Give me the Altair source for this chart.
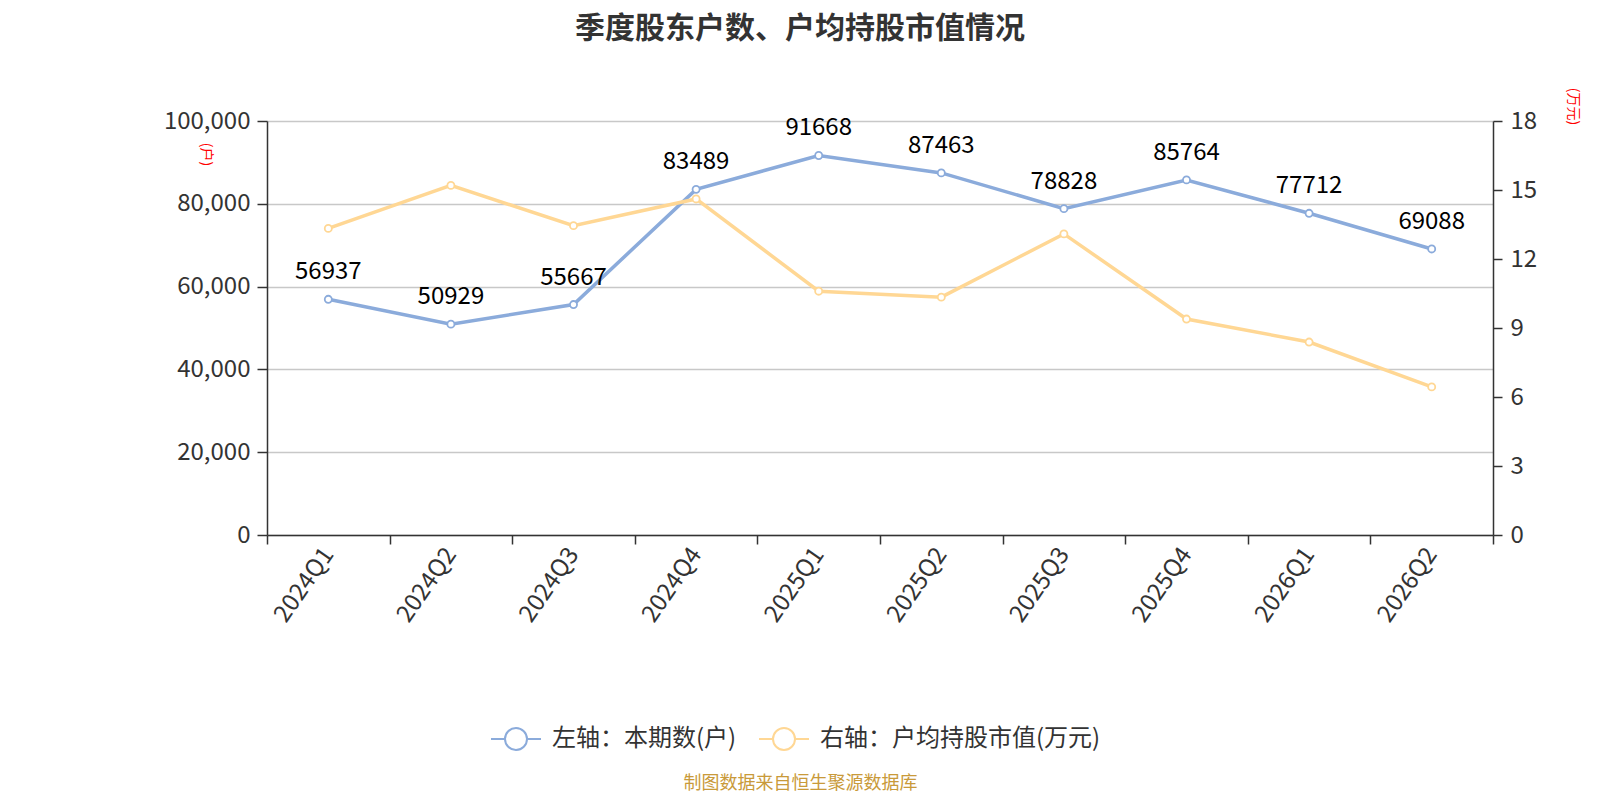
import altair as alt
import pandas as pd

quarters = ["2024Q1", "2024Q2", "2024Q3", "2024Q4", "2025Q1",
            "2025Q2", "2025Q3", "2025Q4", "2026Q1", "2026Q2"]
holders = [56937, 50929, 55667, 83489, 91668, 87463, 78828, 85764, 77712, 69088]
avg_value = [13.33, 15.20, 13.45, 14.61, 10.60, 10.34, 13.09, 9.39, 8.39, 6.44]

name_left = "左轴：本期数(户)"
name_right = "右轴：户均持股市值(万元)"
left_ticks = [0, 20000, 40000, 60000, 80000, 100000]
right_ticks = [0, 3, 6, 9, 12, 15, 18]

BLUE = "#8BABDB"
YELLOW = "#FFD794"
FONT = "Noto Sans CJK SC"

df_l = pd.DataFrame({"quarter": quarters, "v": holders, "series": name_left})
df_r = pd.DataFrame({"quarter": quarters, "v": avg_value, "series": name_right})

x_enc = alt.X(
    "quarter:N", sort=quarters, bandPosition=0.5,
    scale=alt.Scale(type="band", paddingInner=0, paddingOuter=0),
    axis=alt.Axis(
        title="制图数据来自恒生聚源数据库", titleColor="#C99A3A", titleFontSize=18,
        titleFontWeight="normal", titleX=533, titleY=248, titleAlign="center",
        titleBaseline="middle", labelAngle=-55, labelFontSize=24, labelColor="#333333",
        labelPadding=6, tickBand="extent", grid=False, domainColor="#333333",
        domainWidth=1.5, tickColor="#333333", tickWidth=1.5, tickSize=9,
    ),
)

sym_path = "M-1,0L-0.44,0M0.44,0L1,0M0.44,0A0.44,0.44,0,1,1,-0.44,0A0.44,0.44,0,1,1,0.44,0Z"
legend = alt.Legend(
    title=None, orient="none", legendX=223, legendY=592, direction="horizontal",
    symbolType=sym_path, symbolSize=2500, symbolStrokeWidth=2, symbolFillColor="white",
    symbolOpacity=1, labelFontSize=24, labelColor="#333333", labelOffset=10,
    labelLimit=500, columnPadding=18, padding=0,
)
color_enc = alt.Color("series:N", scale=alt.Scale(domain=[name_left, name_right], range=[BLUE, YELLOW]), legend=legend)

y_l = alt.Y("v:Q", scale=alt.Scale(domain=[0, 100000]),
            axis=alt.Axis(values=left_ticks, format=",d", title="(户)", titleAngle=90,
                          titleX=-62, titleY=33, titleAlign="center", titleBaseline="middle",
                          titleColor="red", titleFontSize=14, titleFontWeight="normal",
                          labelFontSize=24, labelColor="#333333", labelPadding=7,
                          grid=True, gridColor="#c8c8c8", gridWidth=1.4,
                          domainColor="#333333", domainWidth=1.5, tickColor="#333333",
                          tickWidth=1.5, tickSize=10))
y_r = alt.Y("v:Q", scale=alt.Scale(domain=[0, 18]),
            axis=alt.Axis(orient="right", values=right_ticks, title="(万元)", titleAngle=90,
                          titleX=79, titleY=-15, titleAlign="center", titleBaseline="middle",
                          titleColor="red", titleFontSize=14, titleFontWeight="normal",
                          labelFontSize=24, labelColor="#333333", labelPadding=8,
                          grid=False, domainColor="#333333", domainWidth=1.5,
                          tickColor="#333333", tickWidth=1.5, tickSize=9))

base_l = alt.Chart(df_l).encode(x=x_enc, y=y_l)
line_l = base_l.mark_line(strokeWidth=3.5).encode(color=color_enc)
pts_l = base_l.mark_point(filled=False, fill="white", size=50, strokeWidth=1.8, opacity=1).encode(color=color_enc)
txt_l = base_l.mark_text(fontSize=24, color="black", dy=-27, baseline="middle", align="center").encode(text="v:Q")
left = alt.layer(line_l, pts_l, txt_l)

base_r = alt.Chart(df_r).encode(x=x_enc, y=y_r)
line_r = base_r.mark_line(strokeWidth=3.5).encode(color=color_enc)
pts_r = base_r.mark_point(filled=False, fill="white", size=50, strokeWidth=1.8, opacity=1).encode(color=color_enc)
right = alt.layer(line_r, pts_r)

chart = alt.layer(left, right).resolve_scale(y="independent").properties(
    width=1226, height=414,
    autosize=alt.AutoSizeParams(type="none"),
    padding={"left": 259, "top": 113, "right": 99, "bottom": 257},
    title=alt.TitleParams("季度股东户数、户均持股市值情况", fontSize=30, fontWeight="bold",
                          color="#333333", anchor="middle", frame="group", dx=-80,
                          offset=43, font=FONT),
).configure(font=FONT).configure_view(strokeWidth=0)

chart.save("out.html", embed_options={"renderer": "svg", "actions": False})
